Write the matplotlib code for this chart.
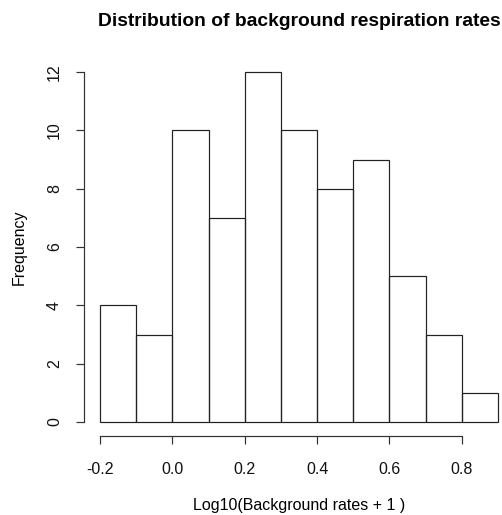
import numpy as np
import matplotlib
matplotlib.use("Agg")
import matplotlib.pyplot as plt

# histogram bins and counts
bin_edges = [-0.2, -0.1, 0.0, 0.1, 0.2, 0.3, 0.4, 0.5, 0.6, 0.7, 0.8, 0.9]
counts = [4, 3, 10, 7, 12, 10, 8, 9, 5, 3, 1]
x_ticks = [-0.2, 0.0, 0.2, 0.4, 0.6, 0.8]
y_ticks = [0, 2, 4, 6, 8, 10, 12]

plt.rcParams["font.family"] = ["Liberation Sans", "DejaVu Sans"]

DPI = 72
fig = plt.figure(figsize=(502 / DPI, 515 / DPI), dpi=DPI)
# plot region in pixels: left 84, right 514, top 58, bottom 436
ax = fig.add_axes([84 / 502, (515 - 436) / 515, 430 / 502, 378 / 515])

edges = np.array(bin_edges)
widths = np.diff(edges)
ax.bar(edges[:-1], counts, width=widths, align="edge",
       fill=False, edgecolor="#222222", linewidth=1.2)

# R-style 4% axis extension
xr = edges[-1] - edges[0]
ax.set_xlim(edges[0] - 0.04 * xr, edges[-1] + 0.04 * xr)
ymax = max(counts)
ax.set_ylim(-0.04 * ymax, ymax * 1.04)

for s in ["top", "right"]:
    ax.spines[s].set_visible(False)
for s in ["left", "bottom"]:
    ax.spines[s].set_linewidth(1.2)
    ax.spines[s].set_color("#333333")
ax.spines["bottom"].set_bounds(x_ticks[0], x_ticks[-1])
ax.spines["left"].set_bounds(y_ticks[0], y_ticks[-1])

ax.set_xticks(x_ticks)
ax.set_xticklabels([f"{v:.1f}" for v in x_ticks])
ax.set_yticks(y_ticks)
ax.set_yticklabels([str(v) for v in y_ticks], rotation=90, va="center")
ax.tick_params(axis="both", length=8, width=1.2, color="#333333",
               labelsize=16, labelcolor="#111111")
ax.tick_params(axis="x", pad=18)
ax.tick_params(axis="y", pad=14)

ax.set_xlabel("Log10(Background rates + 1 )", fontsize=16, labelpad=21)
ax.set_ylabel("Frequency", fontsize=16, labelpad=20)
fig.text(299 / 502, 1 - 21 / 515, "Distribution of background respiration rates",
         ha="center", va="center", fontsize=19.2, fontweight="bold")

fig.savefig("out.png", dpi=DPI)
